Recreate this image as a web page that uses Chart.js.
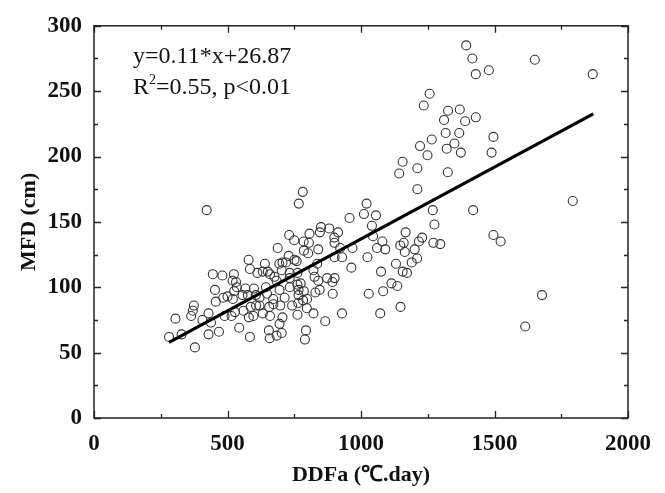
<!DOCTYPE html>
<html>
<head>
<meta charset="utf-8">
<script src="https://cdn.jsdelivr.net/npm/chart.js@4/dist/chart.umd.min.js"></script>
<style>
  html, body { margin: 0; padding: 0; background: #fff; }
  #wrap { width: 665px; height: 493px; }
</style>
</head>
<body>
<div id="wrap"><canvas id="chart" width="665" height="493"></canvas></div>
<script>
// DDFa vs MFD, scatter + linear fit

const ddfa = [
  1394, 1417, 1430, 1479, 1651, 1868, 1257, 1235, 1326, 1370,
  1311, 1430, 1390, 1317, 1368, 1265, 1496, 1221, 1350, 1321,
  1249, 1374, 1489, 1156, 1143, 1211, 1325, 1211, 782, 767,
  422, 1021, 1011, 1056, 957, 1269, 1420, 1793, 1041, 1275,
  850, 881, 914, 846, 807, 731, 750, 785, 805, 900,
  901, 1045, 1167, 1080, 1229, 1217, 1271, 1297, 1496, 1523,
  1147, 1160, 688, 840, 786, 802, 922, 968, 1060, 1091,
  1164, 1201, 729, 751, 759, 901, 929, 1024, 1210, 579,
  640, 706, 719, 694, 836, 1131, 1190, 964, 584, 612,
  632, 651, 659, 676, 703, 733, 762, 445, 481, 524,
  822, 826, 840, 873, 901, 893, 1075, 1156, 1172, 519,
  532, 684, 733, 762, 774, 1114, 1136, 453, 525, 567,
  599, 644, 695, 733, 766, 786, 845, 829, 894, 1029,
  1083, 500, 556, 576, 606, 620, 648, 671, 714, 766,
  798, 783, 484, 456, 520, 374, 370, 364, 305, 429,
  406, 438, 489, 515, 528, 560, 580, 587, 607, 620,
  632, 656, 659, 672, 698, 706, 695, 742, 762, 797,
  822, 866, 929, 1072, 1148, 281, 328, 429, 468, 544,
  584, 655, 658, 684, 703, 794, 790, 378, 1615, 1678,
  535, 597, 765
];

const mfd = [
  285, 275, 263, 266, 274, 263, 248, 239, 235, 236,
  228, 230, 227, 218, 218, 213, 215, 208, 210, 206,
  201, 203, 203, 196, 187, 191, 188, 175, 173, 164,
  159, 164, 156, 155, 153, 159, 159, 166, 147, 148,
  146, 145, 142, 142, 141, 140, 136, 135, 134, 138,
  134, 139, 142, 135, 138, 135, 134, 133, 140, 135,
  132, 134, 130, 129, 128, 126, 130, 130, 130, 129,
  127, 129, 124, 121, 120, 123, 123, 123, 122, 121,
  118, 119, 119, 118, 118, 118, 119, 115, 114, 111,
  112, 112, 110, 108, 113, 111, 111, 110, 109, 110,
  113, 108, 105, 107, 107, 104, 112, 112, 111, 105,
  104, 105, 107, 102, 103, 103, 101, 98, 97, 99,
  99, 100, 98, 100, 98, 97, 98, 96, 95, 95,
  97, 93, 94, 94, 94, 92, 95, 91, 92, 94,
  91, 90, 92, 89, 91, 86, 82, 78, 76, 80,
  75, 73, 78, 78, 81, 82, 77, 85, 86, 86,
  80, 85, 78, 87, 86, 77, 72, 86, 79, 84,
  80, 74, 80, 80, 85, 62, 64, 64, 66, 69,
  62, 67, 61, 63, 65, 67, 60, 54, 70, 94,
  100, 78, 88
];

// fitted line y = 0.11*x + 26.87, end points
const fitX = [281, 1870];
const fitY = [57.8, 232.6];

const eqText = 'y=0.11*x+26.87';
const r2Text = ['R', '2', '=0.55, p<0.01'];

const SERIF = '"Liberation Serif", "Times New Roman", serif';

const framePlugin = {
  id: 'frameTicks',
  afterDatasetsDraw(chart) {
    const { ctx, chartArea: a, scales } = chart;
    const xs = scales.x, ys = scales.y;
    ctx.save();
    ctx.strokeStyle = '#222';
    ctx.lineWidth = 1.5;
    ctx.strokeRect(a.left, a.top, a.right - a.left, a.bottom - a.top);
    ctx.lineWidth = 1.3;
    ctx.beginPath();
    for (let v = 0; v <= 2000; v += 250) {
      const px = Math.round(xs.getPixelForValue(v)) + 0.5;
      const len = v % 500 === 0 ? 7 : 4;
      ctx.moveTo(px, a.bottom); ctx.lineTo(px, a.bottom - len);
      ctx.moveTo(px, a.top); ctx.lineTo(px, a.top + len);
    }
    for (let v = 0; v <= 300; v += 25) {
      const py = Math.round(ys.getPixelForValue(v)) + 0.5;
      const len = v % 50 === 0 ? 7 : 4;
      ctx.moveTo(a.left, py); ctx.lineTo(a.left + len, py);
      ctx.moveTo(a.right, py); ctx.lineTo(a.right - len, py);
    }
    ctx.stroke();

    // regression text
    ctx.fillStyle = '#111';
    ctx.textBaseline = 'alphabetic';
    ctx.font = '24px ' + SERIF;
    ctx.fillText(eqText, 133, 63);
    let x = 133;
    ctx.fillText(r2Text[0], x, 94);
    x += ctx.measureText(r2Text[0]).width;
    ctx.font = '14px ' + SERIF;
    ctx.fillText(r2Text[1], x, 84);
    x += ctx.measureText(r2Text[1]).width;
    ctx.font = '24px ' + SERIF;
    ctx.fillText(r2Text[2], x, 94);
    ctx.restore();
  }
};

const points = ddfa.map((v, i) => ({ x: v, y: mfd[i] }));
const fitLine = fitX.map((v, i) => ({ x: v, y: fitY[i] }));

new Chart(document.getElementById('chart'), {
  type: 'scatter',
  data: {
    datasets: [
      {
        label: 'MFD',
        data: points,
        pointRadius: 4.5,
        pointHoverRadius: 4.5,
        pointBorderColor: '#333',
        pointBackgroundColor: 'rgba(255,255,255,0)',
        pointBorderWidth: 1.1,
        order: 2
      },
      {
        label: 'fit',
        type: 'line',
        data: fitLine,
        borderColor: '#000',
        borderWidth: 3.2,
        pointRadius: 0,
        fill: false,
        order: 1
      }
    ]
  },
  options: {
    responsive: false,
    animation: false,
    devicePixelRatio: 1,
    layout: { padding: { top: 21, right: 37, left: 0, bottom: 0 } },
    plugins: { legend: { display: false }, tooltip: { enabled: false } },
    scales: {
      x: {
        type: 'linear',
        min: 0, max: 2000,
        afterFit(s) { s.height = 75; },
        grid: { display: false, drawTicks: false },
        border: { display: false },
        ticks: { stepSize: 500, padding: 12, color: '#111', callback: (v) => String(v), font: { family: SERIF, size: 23, weight: 'bold' } },
        title: { display: true, text: 'DDFa (℃.day)', color: '#111', padding: { top: 0, bottom: 4 }, font: { family: SERIF, size: 22, weight: 'bold' } }
      },
      y: {
        min: 0, max: 300,
        afterFit(s) { s.width = 94; },
        grid: { display: false, drawTicks: false },
        border: { display: false },
        ticks: { stepSize: 50, padding: 12, color: '#111', callback: (v) => String(v), font: { family: SERIF, size: 23, weight: 'bold' } },
        title: { display: true, text: 'MFD (cm)', color: '#111', padding: { top: 16, bottom: 0 }, font: { family: SERIF, size: 22, weight: 'bold' } }
      }
    }
  },
  plugins: [framePlugin]
});
</script>
</body>
</html>
